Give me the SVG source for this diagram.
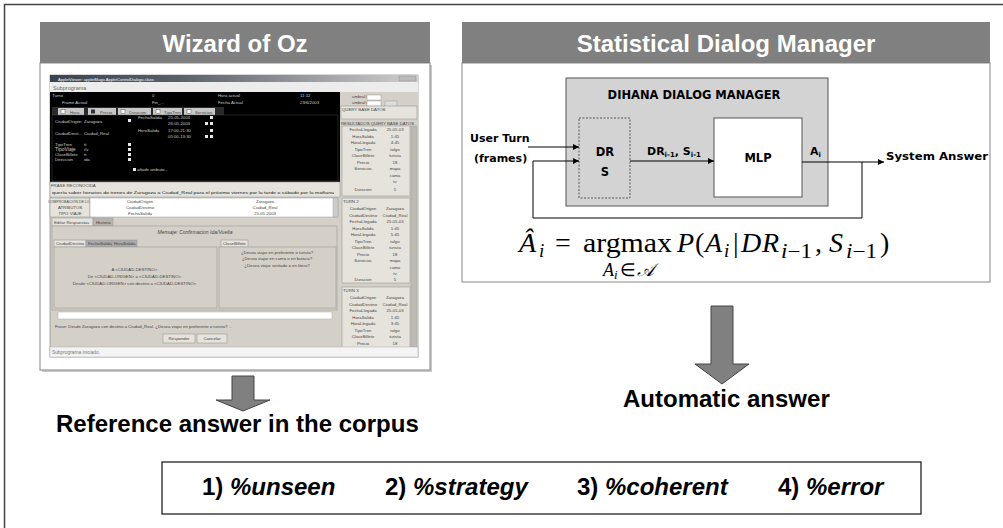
<svg xmlns="http://www.w3.org/2000/svg" width="1003" height="528" viewBox="0 0 1003 528">
<defs>
<style>
.hdr{fill:#808080}
.hdrt{font-family:"Liberation Sans",Arial,sans-serif;font-weight:bold;font-size:24px;fill:#fff;text-anchor:middle}
.body{fill:#fff;stroke:#9a9a9a;stroke-width:1.2}
.lbl{font-family:"DejaVu Sans",Verdana,sans-serif;font-weight:bold;font-size:11px;fill:#000}
.ttl{font-family:"DejaVu Sans",Verdana,sans-serif;font-weight:bold;font-size:11.5px;fill:#000;text-anchor:middle}
.big{font-family:"Liberation Sans",Arial,sans-serif;font-weight:bold;font-size:24px;fill:#000}
.bi{font-style:italic}
.ln{fill:none;stroke:#000;stroke-width:1}
.barrow{fill:#808080;stroke:#444;stroke-width:1}
.m{font-family:"Liberation Serif","Times New Roman",serif;fill:#000}
.mi{font-style:italic}
.s{font-family:"Liberation Sans",Arial,sans-serif;font-size:4.3px;fill:#444}
.sw{font-family:"Liberation Sans",Arial,sans-serif;font-size:4.3px;fill:#ccc}
.sc{text-anchor:middle}
.gp{fill:#d4d0c8;stroke:#9a9a9a;stroke-width:0.6}
.lp{fill:#e6e3dc;stroke:#9a9a9a;stroke-width:0.6}
.wsq{fill:#e8e8e8}
</style>
<marker id="ah" viewBox="0 0 8 8" refX="8" refY="4" markerWidth="6" markerHeight="6" orient="auto" markerUnits="userSpaceOnUse">
<path d="M0,0 L8,4 L0,8 z" fill="#000"/>
</marker>
<linearGradient id="tbar" x1="0" x2="1" y1="0" y2="0">
<stop offset="0" stop-color="#3b4250"/>
<stop offset="0.35" stop-color="#5a606a"/>
<stop offset="1" stop-color="#cfcfcf"/>
</linearGradient>
</defs>
<rect x="0" y="0" width="1003" height="528" fill="#fff"/>
<path d="M4.5,528 V4.5 H1003" fill="none" stroke="#444" stroke-width="1.5"/>

<g id="wizard-panel">
<rect x="42" y="65" width="390" height="307" fill="#c8c8c8"/>
<rect class="body" x="40" y="63" width="390" height="307"/>
<rect class="hdr" x="40" y="22" width="390" height="41"/>
<text class="hdrt" x="235" y="52">Wizard of Oz</text>
</g>

<g id="wizard-screenshot">
<rect x="50" y="75" width="368" height="282" fill="#d4d0c8" stroke="#777" stroke-width="0.6"/>
<rect x="50" y="75" width="368" height="7" fill="url(#tbar)"/>
<text class="sw" x="58" y="80.5" style="fill:#fff;font-size:4px">AppletViewer: appletMago.AppletControlDialogo.class</text>
<rect x="399" y="76" width="17" height="5" fill="#bbb" stroke="#888" stroke-width="0.4"/>
<rect x="50" y="82" width="368" height="10" fill="#ececec"/>
<text class="s" x="53" y="89.5" style="font-size:5.5px;fill:#666">Subprograma</text>
<rect x="50" y="92" width="290" height="90" fill="#000"/>
<text class="sw" x="52" y="97">Turno</text>
<text class="sw" x="152" y="97">0</text>
<text class="sw" x="218" y="97">Hora actual</text>
<text class="sw" x="300" y="97">11:12</text>
<text class="sw" x="62" y="104">Frame Actual</text>
<text class="sw" x="152" y="104">Fin_...</text>
<text class="sw" x="218" y="104">Fecha Actual</text>
<text class="sw" x="300" y="104">23/6/2003</text>
<rect x="52" y="107" width="172" height="8" fill="#2a2a2a"/>
<rect x="58" y="108" width="26" height="7" fill="#c8c8c8"/>
<rect x="88" y="108" width="28" height="7" fill="#c8c8c8"/>
<rect x="118" y="108" width="33" height="7" fill="#c8c8c8"/>
<rect x="153" y="108" width="29" height="7" fill="#c8c8c8"/>
<rect x="184" y="108" width="31" height="7" fill="#c8c8c8"/>
<text class="s" x="70" y="113.5">Hora</text>
<text class="s" x="100" y="113.5">Precio</text>
<text class="s" x="129" y="113.5">Duracion</text>
<text class="s" x="164" y="113.5">TipoTren</text>
<text class="s" x="195" y="113.5">Servicios</text>
<rect x="61" y="109.5" width="4" height="4" fill="#fff" stroke="#333" stroke-width="0.4"/>
<rect x="91" y="109.5" width="4" height="4" fill="#333"/>
<rect x="121" y="109.5" width="4" height="4" fill="#fff" stroke="#333" stroke-width="0.4"/>
<rect x="156" y="109.5" width="4" height="4" fill="#fff" stroke="#333" stroke-width="0.4"/>
<rect x="187" y="109.5" width="4" height="4" fill="#fff" stroke="#333" stroke-width="0.4"/>
<rect x="52" y="115" width="286" height="66" fill="none" stroke="#555" stroke-width="0.4"/>
<text class="sw" x="55" y="123">CiudadOrigen</text>
<text class="sw" x="84" y="123">Zaragoza</text>
<text class="sw" x="55" y="135">CiudadDesti...</text>
<text class="sw" x="84" y="135">Ciudad_Real</text>
<text class="sw" x="55" y="146">TipoTren</text>
<text class="sw" x="84" y="146">tt</text>
<text class="sw" x="55" y="151" style="font-size:5px">TipoViaje</text>
<text class="sw" x="84" y="151">i/v</text>
<text class="sw" x="55" y="156">ClaseBillete</text>
<text class="sw" x="84" y="156">tt</text>
<text class="sw" x="55" y="161">Direccion</text>
<text class="sw" x="84" y="161">ida</text>
<text class="sw" x="138" y="119">FechaSalida</text>
<text class="sw" x="168" y="119">25-05-2003</text>
<text class="sw" x="168" y="125">26-05-2003</text>
<text class="sw" x="138" y="132">HoraSalida</text>
<text class="sw" x="168" y="132">17:00-21:30</text>
<text class="sw" x="168" y="138">05:00-13:30</text>
<text class="sw" x="137" y="171">añadir atributo...</text>
<g class="wsq">
<rect x="128" y="119" width="3" height="3"/><rect x="128" y="143" width="3" height="3"/><rect x="128" y="148" width="3" height="3"/><rect x="128" y="153" width="3" height="3"/><rect x="128" y="158" width="3" height="3"/>
<rect x="210" y="116" width="3" height="3"/><rect x="210" y="129" width="3" height="3"/><rect x="205" y="122" width="3" height="3"/><rect x="210" y="122" width="3" height="3"/><rect x="205" y="135" width="3" height="3"/><rect x="210" y="135" width="3" height="3"/>
<rect x="133" y="168" width="3" height="3"/>
</g>
<rect x="340" y="92" width="78" height="265" fill="#d4d0c8"/>
<text class="s" x="352" y="98">umbral frase</text>
<rect x="367" y="95" width="14" height="5" fill="#fff" stroke="#888" stroke-width="0.4"/>
<text class="s" x="352" y="104">umbral traza</text>
<rect x="367" y="101" width="14" height="5" fill="#fff" stroke="#888" stroke-width="0.4"/>
<rect x="385" y="101" width="12" height="6" fill="#ddd" stroke="#888" stroke-width="0.4"/>
<rect class="lp" x="341" y="106" width="76" height="13"/>
<text class="s" x="342" y="111">QUERY BASE DATOS</text>
<text class="s" x="341" y="124.5">RESULTADOS QUERY BASE DATOS</text>
<rect class="lp" x="342" y="126" width="68" height="70"/>
<g class="s sc">
<text x="363" y="131">FechaLlegada</text><text x="395" y="131">25-05-03</text>
<text x="363" y="137.5">HoraSalida</text><text x="395" y="137.5">1:45</text>
<text x="363" y="144">HoraLlegada</text><text x="395" y="144">4:45</text>
<text x="363" y="150.5">TipoTren</text><text x="395" y="150.5">talgo</text>
<text x="363" y="157">ClaseBillete</text><text x="395" y="157">turista</text>
<text x="363" y="163.5">Precio</text><text x="395" y="163.5">18</text>
<text x="363" y="170">Servicios</text><text x="395" y="170">mapa</text>
<text x="395" y="176.5">cama</text>
<text x="395" y="183">tv</text>
<text x="363" y="191">Duracion</text><text x="395" y="191">5</text>
</g>
<rect x="411" y="126" width="6" height="229" fill="#bdbab2" stroke="#999" stroke-width="0.4"/>
<rect class="lp" x="342" y="198" width="68" height="85"/>
<text class="s" x="343" y="203">TURN 2</text>
<g class="s sc">
<text x="363" y="210">CiudadOrigen</text><text x="395" y="210">Zaragoza</text>
<text x="363" y="216.5">CiudadDestino</text><text x="395" y="216.5">Ciudad_Real</text>
<text x="363" y="223">FechaLlegada</text><text x="395" y="223">25-05-03</text>
<text x="363" y="229.5">HoraSalida</text><text x="395" y="229.5">1:45</text>
<text x="363" y="236">HoraLlegada</text><text x="395" y="236">5:45</text>
<text x="363" y="242.5">TipoTren</text><text x="395" y="242.5">talgo</text>
<text x="363" y="249">ClaseBillete</text><text x="395" y="249">turista</text>
<text x="363" y="255.5">Precio</text><text x="395" y="255.5">18</text>
<text x="363" y="262">Servicios</text><text x="395" y="262">mapa</text>
<text x="395" y="268.5">cama</text>
<text x="395" y="275">tv</text>
<text x="363" y="281">Duracion</text><text x="395" y="281">5</text>
</g>
<rect class="lp" x="342" y="287" width="68" height="68"/>
<text class="s" x="343" y="292">TURN 3</text>
<g class="s sc">
<text x="363" y="299">CiudadOrigen</text><text x="395" y="299">Zaragoza</text>
<text x="363" y="305.5">CiudadDestino</text><text x="395" y="305.5">Ciudad_Real</text>
<text x="363" y="312">FechaLlegada</text><text x="395" y="312">25-05-03</text>
<text x="363" y="318.5">HoraSalida</text><text x="395" y="318.5">1:45</text>
<text x="363" y="325">HoraLlegada</text><text x="395" y="325">3:45</text>
<text x="363" y="331.5">TipoTren</text><text x="395" y="331.5">talgo</text>
<text x="363" y="338">ClaseBillete</text><text x="395" y="338">turista</text>
<text x="363" y="344.5">Precio</text><text x="395" y="344.5">18</text>
</g>
<rect class="lp" x="50" y="182" width="290" height="15"/>
<text class="s" x="51" y="187">FRASE RECONOCIDA</text>
<text class="s" x="52" y="193.5" textLength="282" lengthAdjust="spacingAndGlyphs" style="fill:#222">quería saber horarios de trenes de Zaragoza a Ciudad_Real para el próximo viernes por la tarde o sábado por la mañana</text>
<rect class="lp" x="50" y="198" width="40" height="19"/>
<g class="s sc">
<text x="70" y="202.5" style="font-size:3.6px">COMPROBACION DE LOS</text>
<text x="70" y="208.5">ATRIBUTOS</text>
<text x="70" y="214.5">TIPO VIAJE</text>
</g>
<rect x="90" y="198" width="248" height="19" fill="#fff" stroke="#999" stroke-width="0.5"/>
<g class="s sc">
<text x="140" y="203">CiudadOrigen</text><text x="265" y="203">Zaragoza</text>
<text x="140" y="209">CiudadDestino</text><text x="265" y="209">Ciudad_Real</text>
<text x="140" y="215">FechaSalida</text><text x="265" y="215">25-05-2003</text>
</g>
<rect x="333" y="198" width="5" height="19" fill="#ccc" stroke="#999" stroke-width="0.4"/>
<rect class="lp" x="52" y="218" width="41" height="8"/>
<text class="s" x="54" y="223.5">Editar Respuestas</text>
<rect x="93" y="218" width="20" height="8" fill="#b8b4ac" stroke="#999" stroke-width="0.5"/>
<text class="s" x="96" y="223.5">Historia</text>
<rect class="gp" x="52" y="226" width="285" height="84"/>
<text class="s sc" x="195" y="233.5" style="font-style:italic;font-size:5px">Mensaje: Confirmacion Ida/Vuelta</text>
<rect class="lp" x="54" y="240" width="32" height="7"/>
<text class="s" x="56" y="245">CiudadDestino</text>
<rect x="86" y="240" width="26" height="7" fill="#aaa" stroke="#999" stroke-width="0.5"/>
<text class="s" x="88" y="245">FechaSalida</text>
<rect x="112" y="240" width="25" height="7" fill="#aaa" stroke="#999" stroke-width="0.5"/>
<text class="s" x="114" y="245">HoraSalida</text>
<rect class="gp" x="54" y="247" width="163" height="61"/>
<g class="s sc">
<text x="135" y="271">A &lt;CIUDAD-DESTINO&gt;.</text>
<text x="135" y="278">De &lt;CIUDAD-ORIGEN&gt; a &lt;CIUDAD-DESTINO&gt;.</text>
<text x="135" y="285">Desde &lt;CIUDAD-ORIGEN&gt; con destino a &lt;CIUDAD-DESTINO&gt;.</text>
</g>
<rect class="lp" x="221" y="240" width="27" height="7"/>
<text class="s" x="223" y="245">ClaseBillete</text>
<rect class="gp" x="219" y="247" width="117" height="61"/>
<g class="s sc">
<text x="277" y="253.5">¿Desea viajar en preferente o turista?</text>
<text x="277" y="260">¿Desea viajar en cama o en butaca?</text>
<text x="277" y="266.5">¿Desea viajar sentado o en litera?</text>
</g>
<rect x="58" y="312" width="274" height="7" fill="#fff" stroke="#aaa" stroke-width="0.5"/>
<text class="s" x="55" y="328">Frase: Desde Zaragoza con destino a Ciudad_Real. ¿Desea viajar en preferente o turista? ...</text>
<rect class="lp" x="163" y="334" width="32" height="9"/>
<text class="s sc" x="179" y="340">Responder</text>
<rect class="lp" x="197" y="334" width="30" height="9"/>
<text class="s sc" x="212" y="340">Cancelar</text>
<rect x="50" y="347" width="368" height="10" fill="#f4f4f4" stroke="#aaa" stroke-width="0.5"/>
<text class="s" x="52" y="354" style="font-size:4.8px;fill:#777">Subprograma iniciado.</text>
</g>

<g id="sdm-panel">
<rect class="body" x="462" y="63" width="528" height="219"/>
<rect class="hdr" x="462" y="22" width="528" height="41"/>
<text class="hdrt" x="726" y="52">Statistical Dialog Manager</text>
</g>

<g id="dihana">
<rect x="566" y="78" width="262" height="128" fill="#d3d3d3" stroke="#555" stroke-width="1"/>
<text class="ttl" x="694" y="99">DIHANA DIALOG MANAGER</text>
</g>
<g id="drs">
<rect x="579" y="118" width="51" height="80" fill="#d3d3d3" stroke="#555" stroke-width="1" stroke-dasharray="2,1.5"/>
<text class="ttl" x="605" y="156">DR</text>
<text class="ttl" x="605" y="176">S</text>
</g>
<g id="mlp">
<rect x="714" y="118" width="88" height="79" fill="#fff" stroke="#555" stroke-width="1"/>
<text class="ttl" x="758" y="162">MLP</text>
</g>
<g id="labels">
<text class="lbl" x="470" y="142">User Turn</text>
<text class="lbl" x="474" y="162">(frames)</text>
<text class="lbl" x="647" y="155">DR<tspan font-size="7" dy="2">i-1</tspan><tspan dy="-2">, S</tspan><tspan font-size="7" dy="2">i-1</tspan></text>
<text class="lbl" x="810" y="155">A<tspan font-size="7" dy="2">i</tspan></text>
<text class="lbl" x="886" y="160" textLength="102" lengthAdjust="spacingAndGlyphs">System Answer</text>
</g>
<g id="connectors">
<line class="ln" x1="528" y1="147" x2="579" y2="147" marker-end="url(#ah)"/>
<line class="ln" x1="533" y1="161" x2="579" y2="161" marker-end="url(#ah)"/>
<polyline class="ln" points="533,161 533,218 862,218 862,162"/>
<line class="ln" x1="630" y1="161" x2="714" y2="161" marker-end="url(#ah)"/>
<line class="ln" x1="802" y1="162" x2="884" y2="162" marker-end="url(#ah)"/>
<path class="barrow" d="M232,376 H254 V400 H270 L243,411 L216,400 H232 Z"/>
<path class="barrow" d="M711,306 H733 V364 H749 L722,384 L695,364 H711 Z"/>
</g>

<g id="formula" class="m" font-size="28">
<text class="mi" x="519" y="252">Â</text>
<text class="mi" x="539" y="257" font-size="19">i</text>
<text x="555" y="252">=</text>
<text x="583" y="252" textLength="89" lengthAdjust="spacingAndGlyphs">argmax</text>
<text class="mi" x="677" y="252">P</text>
<text x="695" y="252">(</text>
<text class="mi" x="705" y="252">A</text>
<text class="mi" x="724" y="257" font-size="19">i</text>
<text x="733" y="252">|</text>
<text class="mi" x="741" y="252">D</text>
<text class="mi" x="762" y="252">R</text>
<text class="mi" x="781" y="258" font-size="20" textLength="31" lengthAdjust="spacingAndGlyphs">i<tspan font-style="normal">−1</tspan></text>
<text x="815" y="252">,</text>
<text class="mi" x="829" y="252">S</text>
<text class="mi" x="846" y="258" font-size="20" textLength="31" lengthAdjust="spacingAndGlyphs">i<tspan font-style="normal">−1</tspan></text>
<text x="880" y="252">)</text>
<text class="mi" x="603" y="276" font-size="18">A<tspan font-size="13" dy="3">i</tspan><tspan font-style="normal" dy="-3" dx="2">∈</tspan><tspan dx="1">𝒜</tspan></text>
</g>

<g id="answers">
<text class="big" x="56" y="432">Reference answer in the corpus</text>
<text class="big" x="623" y="407">Automatic answer</text>
</g>

<g id="metrics">
<rect x="162" y="462" width="759" height="52" fill="#fff" stroke="#222" stroke-width="1.3"/>
<text class="big" x="202" y="495">1) <tspan class="bi">%unseen</tspan></text>
<text class="big" x="385" y="495">2) <tspan class="bi">%strategy</tspan></text>
<text class="big" x="577" y="495">3) <tspan class="bi">%coherent</tspan></text>
<text class="big" x="778" y="495">4) <tspan class="bi">%error</tspan></text>
</g>
</svg>
